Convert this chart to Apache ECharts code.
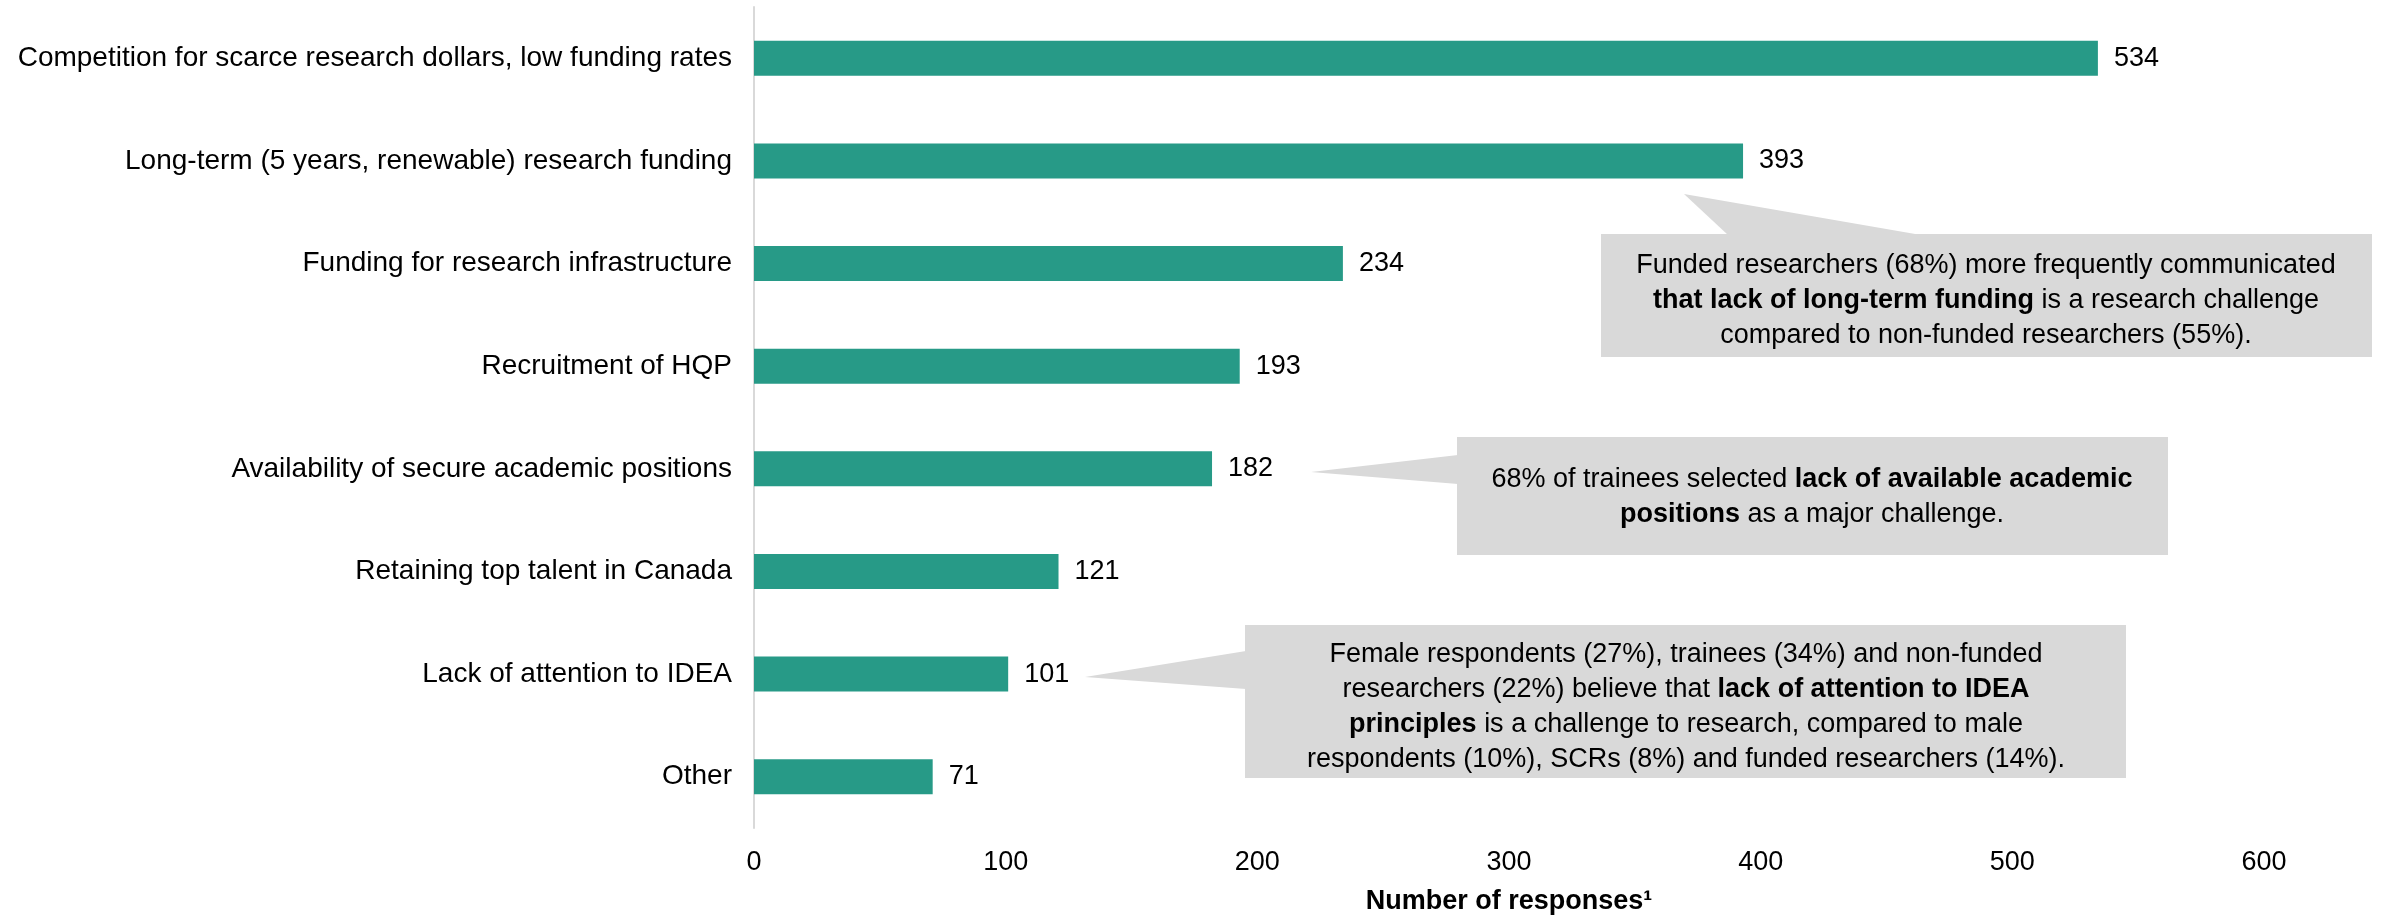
<!DOCTYPE html>
<html>
<head>
<meta charset="utf-8">
<script src="https://cdn.jsdelivr.net/npm/echarts@6/dist/echarts.min.js"></script>
<style>
  html, body { margin: 0; padding: 0; background: #fff; }
  #chart { width: 2402px; height: 915px; }
</style>
</head>
<body>
<div id="chart"></div>
<script>
// Research challenges reported by respondents
const categories = [
  'Competition for scarce research dollars, low funding rates',
  'Long-term (5 years, renewable) research funding',
  'Funding for research infrastructure',
  'Recruitment of HQP',
  'Availability of secure academic positions',
  'Retaining top talent in Canada',
  'Lack of attention to IDEA',
  'Other'
];
const responses = [534, 393, 234, 193, 182, 121, 101, 71];
const xTicks = { min: 0, max: 600, step: 100 };

const FONT = '"Liberation Sans", Arial, sans-serif';
const BAR = '#279a87';
const NOTE_BG = '#d9d9d9';
const NOTE_SIZE = 27;
const NOTE_LINE = 35;

const chart = echarts.init(document.getElementById('chart'));

// Callout box: rectangle + pointer triangle + centred rich text
function callout(box, pointer, lines, centerX, centerY) {
  const rich = {
    n: { fontFamily: FONT, fontSize: NOTE_SIZE, fill: '#000', lineHeight: NOTE_LINE },
    b: { fontFamily: FONT, fontSize: NOTE_SIZE, fontWeight: 'bold', fill: '#000', lineHeight: NOTE_LINE }
  };
  return [
    { type: 'polygon', shape: { points: pointer }, style: { fill: NOTE_BG }, z: 10 },
    { type: 'rect', shape: box, style: { fill: NOTE_BG }, z: 10 },
    {
      type: 'text', x: centerX, y: centerY, z: 11,
      style: {
        text: lines.join('\n'), rich: rich,
        fontFamily: FONT, fontSize: NOTE_SIZE, fill: '#000',
        align: 'center', verticalAlign: 'middle', lineHeight: NOTE_LINE
      }
    }
  ];
}

const notes = [].concat(
  callout(
    { x: 1601, y: 234, width: 771, height: 123 },
    [[1684, 194], [1728, 235], [1921, 235]],
    [
      '{n|Funded researchers (68%) more frequently communicated}',
      '{b|that lack of long-term funding}{n| is a research challenge}',
      '{n|compared to non-funded researchers (55%).}'
    ],
    1986, 301
  ),
  callout(
    { x: 1457, y: 437, width: 711, height: 118 },
    [[1311, 472], [1458, 455], [1458, 484]],
    [
      '{n|68% of trainees selected }{b|lack of available academic}',
      '{b|positions}{n| as a major challenge.}'
    ],
    1812, 497
  ),
  callout(
    { x: 1245, y: 625, width: 881, height: 153 },
    [[1085, 677], [1246, 651], [1246, 689]],
    [
      '{n|Female respondents (27%), trainees (34%) and non-funded}',
      '{n|researchers (22%) believe that }{b|lack of attention to IDEA}',
      '{b|principles}{n| is a challenge to research, compared to male}',
      '{n|respondents (10%), SCRs (8%) and funded researchers (14%).}'
    ],
    1686, 707
  )
);

chart.setOption({
  animation: false,
  backgroundColor: '#fff',
  grid: {
    left: 754, right: 138, top: 7, height: 821,
    containLabel: false, outerBoundsMode: 'none'
  },
  xAxis: {
    type: 'value',
    min: xTicks.min, max: xTicks.max, interval: xTicks.step,
    splitLine: { show: false },
    axisLine: { show: false },
    axisTick: { show: false },
    axisLabel: { fontFamily: FONT, fontSize: 27, color: '#000', margin: 21 },
    name: 'Number of responses\u00b9',
    nameLocation: 'middle',
    nameGap: 60,
    nameTextStyle: {
      fontFamily: FONT, fontSize: 27, fontWeight: 'bold', color: '#000',
      verticalAlign: 'top'
    }
  },
  yAxis: {
    type: 'category',
    data: categories,
    inverse: true,
    axisLine: { show: true, lineStyle: { color: '#d9d9d9', width: 2 } },
    axisTick: { show: false },
    axisLabel: { fontFamily: FONT, fontSize: 28, color: '#000', margin: 22 }
  },
  series: [{
    type: 'bar',
    data: responses,
    barWidth: 35,
    itemStyle: { color: BAR },
    label: {
      show: true, position: 'right', distance: 16,
      fontFamily: FONT, fontSize: 27, color: '#000'
    }
  }],
  graphic: notes
});
</script>
</body>
</html>
